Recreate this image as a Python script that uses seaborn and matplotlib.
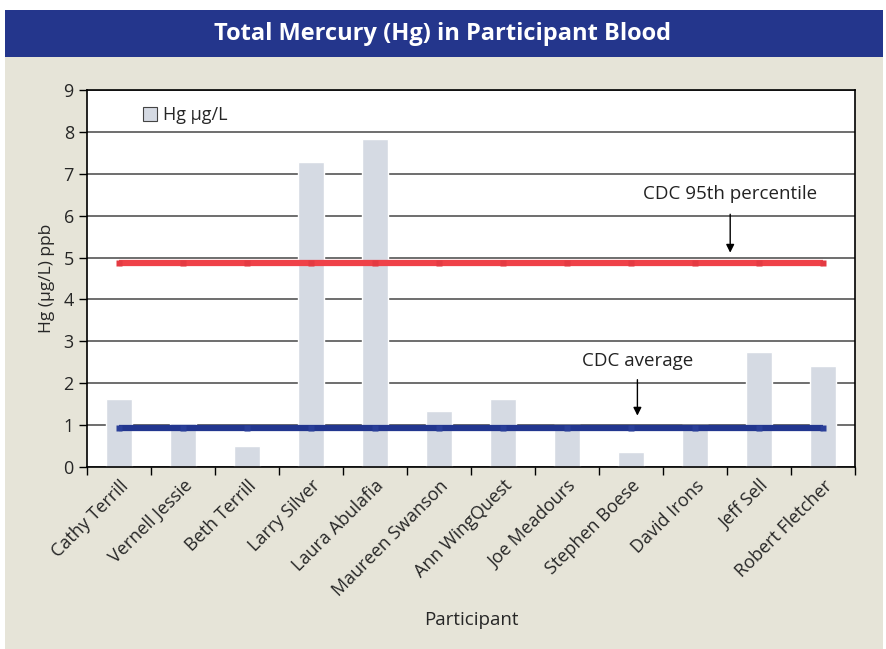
import numpy as np
import seaborn as sns
import matplotlib.pyplot as plt
from matplotlib.patches import Rectangle

# Data
participants = ["Cathy Terrill", "Vernell Jessie", "Beth Terrill", "Larry Silver",
                "Laura Abulafia", "Maureen Swanson", "Ann WingQuest", "Joe Meadours",
                "Stephen Boese", "David Irons", "Jeff Sell", "Robert Fletcher"]
hg_values = [1.62, 1.05, 0.5, 7.27, 7.82, 1.34, 1.62, 1.0, 0.36, 1.0, 2.75, 2.4]
cdc_95th = 4.86
cdc_avg = 0.93

sns.set_style("white")
plt.rcParams['font.family'] = ['Open Sans', 'DejaVu Sans']

beige = "#e6e4d8"
navy = "#24368c"
bar_col = "#d3d9e5"
red = "#ef4148"
blue = "#22368f"

fig = plt.figure(figsize=(8.86, 6.49), dpi=100)
fig.patch.set_facecolor("white")
fig.patches.append(Rectangle((5 / 886, 0), 878 / 886, 592 / 649, transform=fig.transFigure,
                             facecolor=beige, edgecolor="none", zorder=-10))
fig.patches.append(Rectangle((5 / 886, 592 / 649), 878 / 886, 47 / 649, transform=fig.transFigure,
                             facecolor=navy, edgecolor="none", zorder=-10))
fig.text(0.5, 615 / 649, "Total Mercury (Hg) in Participant Blood", color="white",
         fontsize=17, fontweight="bold", ha="center", va="center")

ax = fig.add_axes([87 / 886, 182 / 649, 768 / 886, 377 / 649])
ax.set_facecolor("white")

sns.barplot(x=participants, y=hg_values, color=bar_col, width=0.41, ax=ax,
            label="Hg µg/L", zorder=2)

n = len(participants)
xs = np.arange(n)
ax.plot(xs, [cdc_95th] * n, color=red, lw=4.5, marker="s", markersize=4,
        markerfacecolor="#e43a42", markeredgecolor="none", zorder=3, solid_capstyle="butt")
ax.plot(xs, [cdc_avg] * n, color=blue, lw=4.5, marker="s", markersize=4,
        markerfacecolor="#2a3f99", markeredgecolor="none", zorder=3, solid_capstyle="butt")

ax.annotate("", xy=(9.55, 5.05), xytext=(9.55, 6.1),
            arrowprops=dict(arrowstyle="-|>", color="black", lw=1, mutation_scale=12))
ax.text(9.55, 6.52, "CDC 95th percentile", ha="center", va="center", fontsize=13.5, color="#222222")
ax.annotate("", xy=(8.1, 1.16), xytext=(8.1, 2.15),
            arrowprops=dict(arrowstyle="-|>", color="black", lw=1, mutation_scale=12))
ax.text(8.1, 2.52, "CDC average", ha="center", va="center", fontsize=13.5, color="#222222")

ax.set_xlim(-0.5, n - 0.5)
ax.set_ylim(0, 9)
ax.set_yticks(range(10))
ax.yaxis.grid(True, color="#555555", lw=1.2, zorder=1)
ax.set_axisbelow(True)

ax.set_xticks(xs)
ax.set_xticklabels(participants, rotation=45, ha="right", rotation_mode="anchor", fontsize=13)
ax.set_xticks(np.arange(-0.5, n), minor=True)
ax.tick_params(axis="x", which="major", length=0, pad=7)
ax.tick_params(axis="x", which="minor", length=6, width=1, direction="out", color="black")
ax.tick_params(axis="y", length=6, width=1, direction="out", color="black", labelsize=13)
ax.tick_params(bottom=True, left=True)
ax.xaxis.set_tick_params(which="minor", bottom=True)

for s in ax.spines.values():
    s.set_color("black")
    s.set_linewidth(1.2)

ax.set_xlabel("Participant", fontsize=13.5, labelpad=8)
ax.set_ylabel("Hg (µg/L) ppb", fontsize=12.5, labelpad=6)

leg = ax.legend(loc="upper left", bbox_to_anchor=(0.052, 1.0), frameon=False, fontsize=13,
                handlelength=0.75, handleheight=0.75, handletextpad=0.35)
for h in leg.legend_handles:
    h.set_edgecolor("#444444")
    h.set_linewidth(0.8)

fig.savefig("out.png", dpi=100, facecolor=fig.get_facecolor())
